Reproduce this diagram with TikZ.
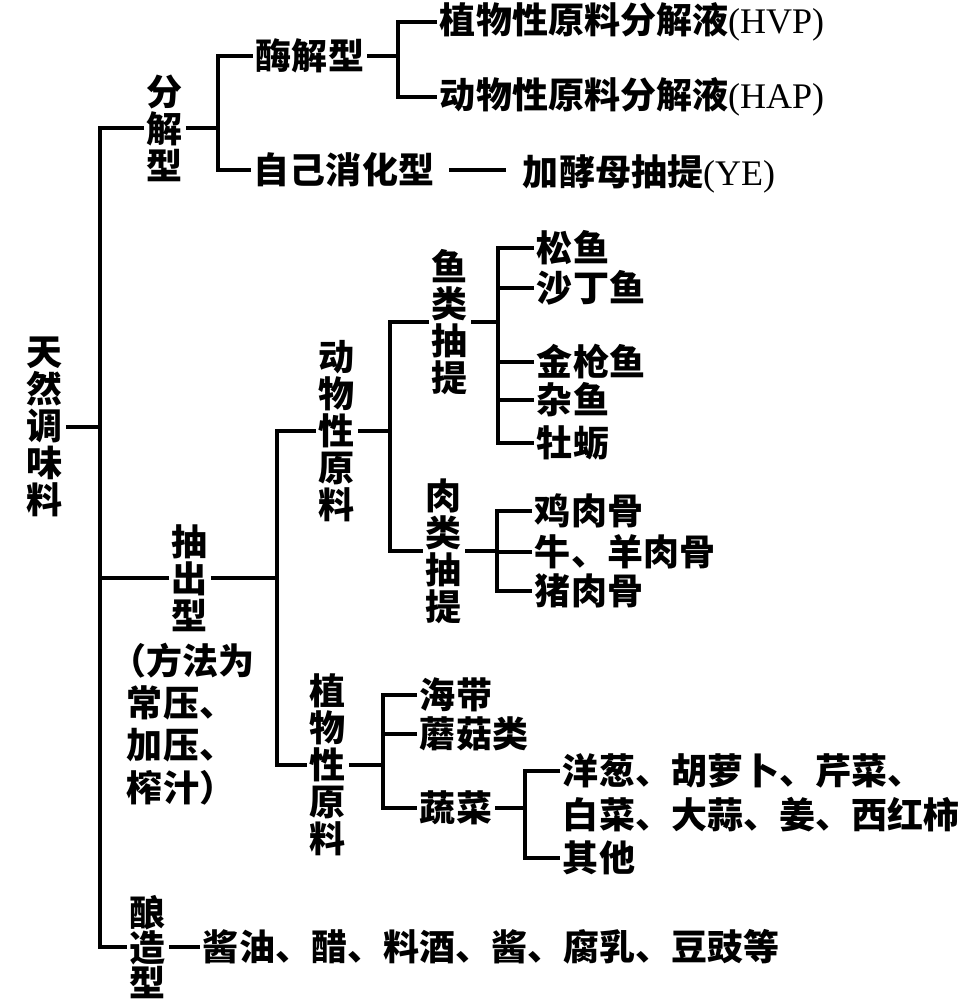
\documentclass[tikz,border=0pt]{standalone}
\usepackage{fontspec}
\setmainfont{Noto Sans CJK SC}
\newfontfamily\romanfont{Liberation Serif}
\usetikzlibrary{positioning}
\usetikzlibrary{calc}
\tikzset{ %Styles du schema
    txt/.style={inner sep=1.5pt, font=\fontsize{20.5}{21}\selectfont\bfseries},
    vtxt/.style={txt, align=center},   % texte vertical
    feuille/.style={txt, anchor=west},
    trait/.style={line width=1.8pt}
}

\begin{document}
\begin{tikzpicture}[x=0.02cm,y=-0.02cm]
            \useasboundingbox (0,0) rectangle (965,1004);
            \node[vtxt] (root) at (45,427) {天\\然\\调\\味\\料};
            \node[vtxt] (fj) at (165,128) {分\\解\\型};
            \node[txt] (mj) at (310,56) {酶解型};
            \node[feuille] (hvp) at (437,22) {植物性原料分解液{\romanfont\mdseries(HVP)}};
            \node[feuille] (hap) at (437,97) {动物性原料分解液{\romanfont\mdseries(HAP)}};
            \node[txt] (zx) at (344,170) {自己消化型};
            \node[feuille] (ye) at (520,174) {加酵母抽提{\romanfont\mdseries(YE)}};
            \node[vtxt] (cc) at (190,578) {抽\\出\\型};
            \node[txt,align=left,anchor=west,font=\fontsize{20.5}{24}\selectfont\bfseries] (ff) at (124,724)
                {\hspace*{-0.45em}（方法为\\常压、\\加压、\\榨汁）};
            \node[vtxt] (dw) at (337,431) {动\\物\\性\\原\\料};
            \node[vtxt] (zw) at (328,765) {植\\物\\性\\原\\料};
            \node[vtxt] (yl) at (450,322) {鱼\\类\\抽\\提};
            \node[vtxt] (rl) at (444,551) {肉\\类\\抽\\提};
            \node[feuille] (y1) at (534,248) {松鱼};
            \node[feuille] (y2) at (534,288) {沙丁鱼};
            \node[feuille] (y3) at (534,362) {金枪鱼};
            \node[feuille] (y4) at (534,400) {杂鱼};
            \node[feuille] (y5) at (534,443) {牡蛎};
            \node[feuille] (r1) at (532,511) {鸡肉骨};
            \node[feuille] (r2) at (532,552) {牛、羊肉骨};
            \node[feuille] (r3) at (532,591) {猪肉骨};
            \node[feuille] (z1) at (417,695) {海带};
            \node[feuille] (z2) at (417,734) {蘑菇类};
            \node[feuille] (sc) at (417,808) {蔬菜};
            \node[feuille] (v1) at (560,771) {洋葱、胡萝卜、芹菜、};
            \node[feuille] (v2) at (560,815) {白菜、大蒜、姜、西红柿};
            \node[feuille] (v3) at (560,858) {其他};
            \node[vtxt,font=\fontsize{20.5}{20}\selectfont\bfseries] (ny) at (148,947) {酿\\造\\型};
            \node[feuille] (jy) at (200,947) {酱油、醋、料酒、酱、腐乳、豆豉等};
            % accolades
            \draw[trait] (root.east) -- (100,427) coordinate (s0);
            \draw[trait] (fj.west) -| (s0) |- (ny.west);
            \draw[trait] (cc.west) -- (cc.west -| s0);
            \draw[trait] (fj.east) -- (218,128) coordinate (s1);
            \draw[trait] (mj.west) -| (s1) |- (zx.west);
            \draw[trait] (mj.east) -- (398,56) coordinate (s2);
            \draw[trait] (hvp.west) -| (s2) |- (hap.west);
            \draw[trait,shorten <=7pt,shorten >=8pt] (zx.east) -- (zx.east -| ye.west);
            \draw[trait] (cc.east) -- (277,578) coordinate (s3);
            \draw[trait] (dw.west) -| (s3) |- (zw.west);
            \draw[trait] (dw.east) -- (390,431) coordinate (s4);
            \draw[trait] (yl.west) -| (s4) |- (rl.west);
            \draw[trait] (yl.east) -- (498,322) coordinate (s5);
            \draw[trait] (y1.west) -| (s5) |- (y5.west);
            \foreach \n in {y2,y3,y4}
                \draw[trait] (\n.west) -- (\n.west -| s5);
            \draw[trait] (rl.east) -- (497,551) coordinate (s6);
            \draw[trait] (r1.west) -| (s6) |- (r3.west);
            \draw[trait] (r2.west) -- (r2.west -| s6);
            \draw[trait] (zw.east) -- (383,765) coordinate (s7);
            \draw[trait] (z1.west) -| (s7) |- (sc.west);
            \draw[trait] (z2.west) -- (z2.west -| s7);
            \draw[trait] (sc.east) -- (525,808) coordinate (s8);
            \draw[trait] (v1.west) -| (s8) |- (v3.west);
            \draw[trait] (ny.east) -- (jy.west);
        \end{tikzpicture}
\end{document}
